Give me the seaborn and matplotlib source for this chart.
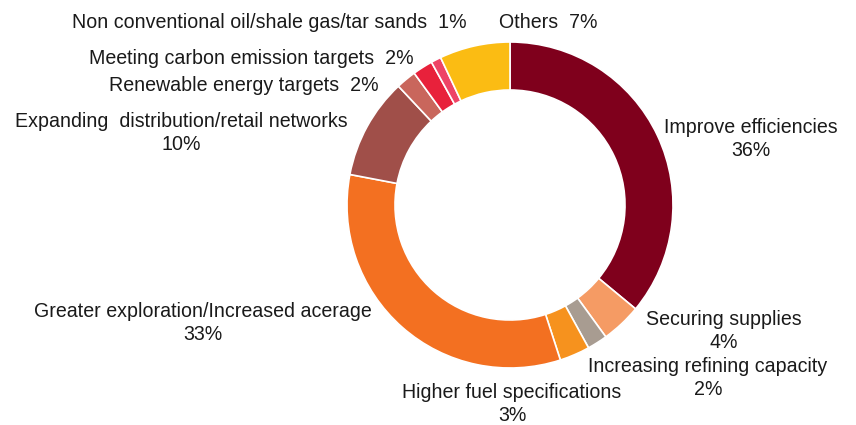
#!/usr/bin/env python3
# -*- coding: utf-8 -*-

from matplotlib import pyplot as plt
import seaborn as sns

# data, clockwise from 12 o'clock
categories = [
    "Improve efficiencies",
    "Securing supplies",
    "Increasing refining capacity",
    "Higher fuel specifications",
    "Greater exploration/Increased acerage",
    "Expanding  distribution/retail networks",
    "Renewable energy targets",
    "Meeting carbon emission targets",
    "Non conventional oil/shale gas/tar sands",
    "Others",
]
shares = [36, 4, 2, 3, 33, 10, 2, 2, 1, 7]

colors = ["#7f001c", "#f59b64", "#a89c91", "#f6921e", "#f37021",
          "#a04f49", "#c9665c", "#e8213b", "#ee4466", "#fbbc13"]

# label anchor (pixel coords of text centre) and whether % goes on same line
label_pos = [
    (751, 139, False),
    (724, 331, False),
    (708, 378, False),
    (512, 404, False),
    (203, 323, False),
    (181, 133, False),
    (244, 85, True),
    (251, 58, True),
    (269, 22, True),
    (548, 22, True),
]

W, H = 856, 425
CENTER = (510, H - 205)
R_OUT = 163
R_IN = 115

sns.set_theme(style="white")
plt.rcParams['font.family'] = ['Liberation Sans', 'DejaVu Sans']

fig = plt.figure(figsize=(W / 100, H / 100), dpi=100)
ax = fig.add_axes([0, 0, 1, 1])

ax.pie(shares, colors=colors, startangle=90, counterclock=False,
       center=CENTER, radius=R_OUT,
       wedgeprops=dict(width=R_OUT - R_IN, edgecolor="white", linewidth=1.2))

for name, val, (x, y, inline) in zip(categories, shares, label_pos):
    if inline:
        txt = f"{name}  {val}%"
    else:
        txt = f"{name}\n{val}%"
    ax.text(x, H - y, txt, ha="center", va="center", fontsize=14.1,
            color="#1a1a1a", linespacing=1.27)

ax.set_xlim(0, W)
ax.set_ylim(0, H)
ax.set_aspect("equal")
ax.axis("off")

plt.savefig("out.png", dpi=100)
